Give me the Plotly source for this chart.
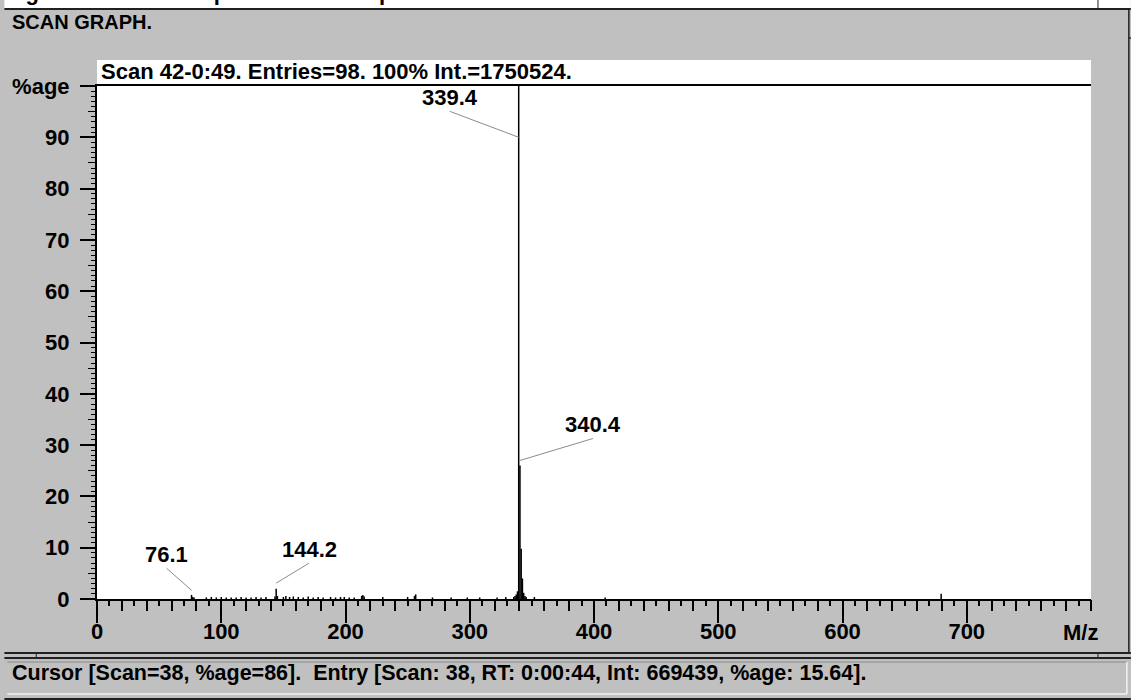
import plotly.graph_objects as go

# ---------------- data ----------------
mz = [76.1, 77.1, 78.1, 88.0, 92.0, 96.0, 100.0, 104.0, 108.0, 112.0, 116.0, 120.0,
      124.0, 128.0, 132.0, 136.0, 143.2, 144.2, 145.2, 150.0, 152.0, 155.0, 158.0,
      162.0, 166.0, 170.0, 174.0, 178.0, 182.0, 188.0, 192.0, 196.0, 199.0, 203.0,
      207.0, 213.0, 214.0, 215.0, 230.0, 250.0, 255.5, 256.5, 270.0, 285.0, 298.0,
      308.0, 322.0, 329.0, 335.4, 336.4, 337.4, 338.4, 339.4, 340.4, 341.4, 342.4,
      343.4, 344.4, 345.4, 352.0, 409.0, 679.4]
intensity = [0.8, 0.4, 0.3, 0.3, 0.4, 0.3, 0.4, 0.3, 0.3, 0.3, 0.4, 0.3,
             0.3, 0.4, 0.3, 0.4, 0.5, 2.0, 0.6, 0.4, 0.6, 0.4, 0.5,
             0.4, 0.3, 0.5, 0.3, 0.4, 0.3, 0.4, 0.3, 0.4, 0.4, 0.3,
             0.3, 0.6, 0.8, 0.5, 0.4, 0.4, 0.6, 0.9, 0.3, 0.3, 0.3,
             0.3, 0.3, 0.4, 0.4, 0.6, 0.9, 1.5, 100.0, 26.0, 9.8, 4.0,
             1.2, 0.6, 0.4, 0.4, 0.3, 1.0]

label_mz = [76.1, 144.2, 339.4, 340.4]
label_text = ["76.1", "144.2", "339.4", "340.4"]
label_target = [1.7, 3.1, 90.0, 27.0]

x_tickvals = [0, 100, 200, 300, 400, 500, 600, 700]
x_ticktext = ["0", "100", "200", "300", "400", "500", "600", "700"]
y_tickvals = [0, 10, 20, 30, 40, 50, 60, 70, 80, 90, 100]
y_ticktext = ["0", "10", "20", "30", "40", "50", "60", "70", "80", "90", "%age"]

title_text = "Scan 42-0:49. Entries=98. 100% Int.=1750524."
status_text = "Cursor [Scan=38, %age=86].  Entry [Scan: 38, RT: 0:00:44, Int: 669439, %age: 15.64]."
window_text = "SCAN GRAPH."
caption_text = "Figure 4.        Host spectra:   Mass spectra"

# ---------------- layout constants ----------------
FW, FH = 1131, 700
L, R, T, B = 93, 40, 86, 101
PW = FW - L - R
PH = FH - T - B
GRAY = "#c0c0c0"
FONT = "Liberation Sans, Arial, sans-serif"

def xp(px):
    return (px - L) / PW

def yp(py):
    return (FH - B - py) / PH

label_off = [(-25, -22), (33, -20), (-69, -26), (73, -22)]

# stems
xs, ys = [], []
for m, v in zip(mz, intensity):
    xs += [m, m, None]
    ys += [0, v, None]

fig = go.Figure()
fig.add_trace(go.Scatter(x=xs, y=ys, mode="lines",
                         line=dict(color="black", width=1.5),
                         hoverinfo="skip", showlegend=False))
# empty trace to carry overlay axes for secondary tick levels
fig.add_trace(go.Scatter(x=[], y=[], xaxis="x2", yaxis="y2", showlegend=False))

tickfont = dict(family=FONT, size=22, color="black", weight=700)

fig.update_layout(
    width=FW, height=FH,
    margin=dict(l=L, r=R, t=T, b=B, pad=0),
    paper_bgcolor=GRAY, plot_bgcolor="white",
    xaxis=dict(range=[0, 800], tickmode="array", tickvals=x_tickvals, ticktext=x_ticktext,
               ticks="outside", ticklen=22, tickwidth=1.5, tickcolor="black",
               minor=dict(dtick=10, ticklen=5, tickwidth=1.5, tickcolor="black", ticks="outside", showgrid=False),
               showline=True, linecolor="black", linewidth=2, mirror=True,
               showgrid=False, zeroline=False, tickfont=tickfont, fixedrange=True,
               ticklabelstandoff=-10),
    xaxis2=dict(overlaying="x", matches="x", anchor="y", side="bottom",
                tickmode="linear", tick0=0, dtick=20, ticks="outside", ticklen=11,
                tickwidth=1.5, tickcolor="black", showticklabels=False,
                showline=False, showgrid=False, zeroline=False),
    yaxis=dict(range=[0, 100], tickmode="array", tickvals=y_tickvals, ticktext=y_ticktext,
               ticks="outside", ticklen=15, tickwidth=1.5, tickcolor="black",
               minor=dict(dtick=1, ticklen=4, tickwidth=1, tickcolor="black", ticks="outside", showgrid=False),
               showline=True, linecolor="black", linewidth=2,
               showgrid=False, zeroline=False, tickfont=tickfont, fixedrange=True,
               ticklabelstandoff=6),
    yaxis2=dict(overlaying="y", matches="y", anchor="x", side="left",
                tickmode="linear", tick0=0, dtick=5, ticks="outside", ticklen=8,
                tickwidth=1.2, tickcolor="black", showticklabels=False,
                showline=False, showgrid=False, zeroline=False),
)

shapes = []
# white caption strip at very top
shapes.append(dict(type="rect", xref="paper", yref="paper", x0=xp(0), x1=xp(FW), y0=yp(0), y1=yp(9),
                   fillcolor="white", line=dict(width=0), layer="below"))
shapes.append(dict(type="line", xref="paper", yref="paper", x0=xp(0), x1=xp(FW), y0=yp(9), y1=yp(9),
                   line=dict(color="#202020", width=2)))
# right frame
shapes.append(dict(type="line", xref="paper", yref="paper", x0=xp(1129), x1=xp(1129), y0=yp(9), y1=yp(653),
                   line=dict(color="#202020", width=1.5)))
shapes.append(dict(type="line", xref="paper", yref="paper", x0=xp(1129), x1=xp(1131), y0=yp(38), y1=yp(38),
                   line=dict(color="#202020", width=1.5)))
shapes.append(dict(type="line", xref="paper", yref="paper", x0=xp(1098), x1=xp(1098), y0=yp(0), y1=yp(9),
                   line=dict(color="#202020", width=1)))
# title band above plot
shapes.append(dict(type="rect", xref="paper", yref="paper", x0=0, x1=1, y0=1, y1=yp(60),
                   fillcolor="white", line=dict(width=0), layer="below"))
# status bar separators
shapes.append(dict(type="line", xref="paper", yref="paper", x0=xp(0), x1=xp(FW), y0=yp(653), y1=yp(653),
                   line=dict(color="#202020", width=2)))
shapes.append(dict(type="line", xref="paper", yref="paper", x0=xp(0), x1=xp(FW), y0=yp(658), y1=yp(658),
                   line=dict(color="#202020", width=2)))
shapes.append(dict(type="line", xref="paper", yref="paper", x0=xp(32), x1=xp(32), y0=yp(653), y1=yp(658),
                   line=dict(color="#202020", width=1)))
shapes.append(dict(type="line", xref="paper", yref="paper", x0=xp(1098), x1=xp(1098), y0=yp(653), y1=yp(658),
                   line=dict(color="#202020", width=1)))
# status box (sunken)
shapes.append(dict(type="line", xref="paper", yref="paper", x0=xp(3), x1=xp(1127), y0=yp(662), y1=yp(662),
                   line=dict(color="#8a8a8a", width=1)))
shapes.append(dict(type="line", xref="paper", yref="paper", x0=xp(3), x1=xp(1127), y0=yp(694), y1=yp(694),
                   line=dict(color="#f2f2f2", width=1.5)))
shapes.append(dict(type="line", xref="paper", yref="paper", x0=xp(1127), x1=xp(1127), y0=yp(662), y1=yp(694),
                   line=dict(color="#f2f2f2", width=1.5)))
shapes.append(dict(type="line", xref="paper", yref="paper", x0=xp(0), x1=xp(FW), y0=yp(699), y1=yp(699),
                   line=dict(color="#202020", width=2)))
fig.update_layout(shapes=shapes)

ann = []
txtfont = dict(family=FONT, size=22, color="black", weight=700)
ann.append(dict(text=caption_text, xref="paper", yref="paper", x=xp(0), y=yp(7),
                xanchor="left", yanchor="bottom", showarrow=False,
                font=dict(family=FONT, size=22, color="black", weight=700)))
ann.append(dict(text=window_text, xref="paper", yref="paper", x=xp(6), y=yp(22),
                xanchor="left", yanchor="middle", showarrow=False,
                font=dict(family=FONT, size=20, color="black", weight=700)))
ann.append(dict(text=title_text, xref="paper", yref="paper", x=xp(95), y=yp(71),
                xanchor="left", yanchor="middle", showarrow=False, font=txtfont))
ann.append(dict(text="M/z", xref="paper", yref="paper", x=xp(1080), y=yp(632),
                xanchor="center", yanchor="middle", showarrow=False, font=txtfont))
ann.append(dict(text=status_text, xref="paper", yref="paper", x=xp(6), y=yp(673),
                xanchor="left", yanchor="middle", showarrow=False,
                font=dict(family=FONT, size=21.5, color="black", weight=700)))
for m, t, yt, (ax, ay) in zip(label_mz, label_text, label_target, label_off):
    ann.append(dict(x=m, y=yt, xref="x", yref="y", text=t, showarrow=True,
                    arrowhead=0, arrowwidth=1, arrowcolor="#8c8c8c", standoff=0,
                    ax=ax, ay=ay, xanchor="center", yanchor="bottom",
                    borderpad=0, font=txtfont))
fig.update_layout(annotations=ann)

fig.write_html("out.html", config={"displayModeBar": False},
               post_script="document.body.style.margin='0px';")
